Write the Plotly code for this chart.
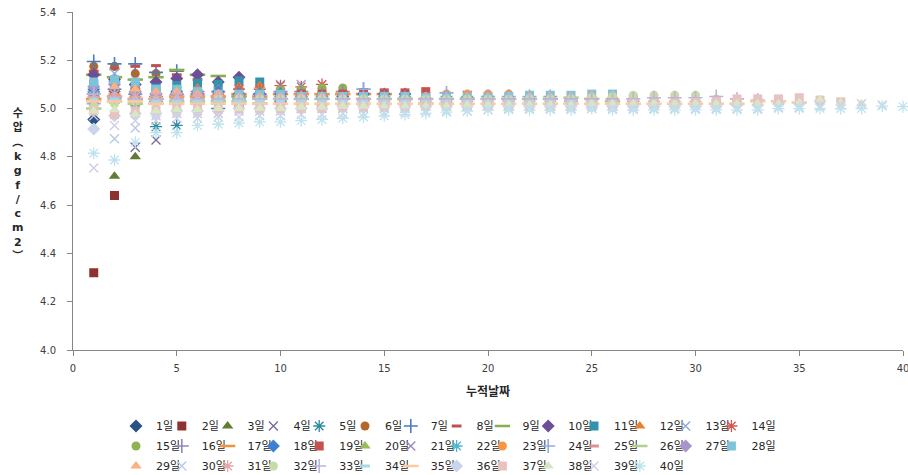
import plotly.graph_objects as go

# ---------------- data (series k = "k일", measured on cumulative days 1..k) ----------------
v01 = [4.955]
v02 = [4.32, 4.64]
v03 = [5.06, 4.72, 4.80]
v04 = [5.03, 5.05, 4.84, 4.87]
v05 = [5.08, 5.06, 5.02, 4.925, 4.93]
v06 = [5.175, 5.175, 5.145, 5.145, 5.03, 4.99]
v07 = [5.195, 5.185, 5.185, 5.15, 5.155, 5.06, 5.00]
v08 = [5.155, 5.165, 5.175, 5.178, 5.14, 5.12, 5.03, 5.01]
v09 = [5.14, 5.13, 5.12, 5.13, 5.16, 5.14, 5.135, 5.05, 5.02]
v10 = [5.14, 5.12, 5.10, 5.11, 5.125, 5.14, 5.11, 5.13, 5.06, 5.03]
v11 = [5.10, 5.11, 5.09, 5.085, 5.095, 5.105, 5.10, 5.115, 5.11, 5.05, 5.03]
v12 = [5.05, 5.08, 5.09, 5.07, 5.08, 5.085, 5.08, 5.09, 5.095, 5.08, 5.04, 5.02]
v13 = [5.07, 5.145, 5.06, 5.06, 5.07, 5.06, 5.07, 5.08, 5.08, 5.10, 5.10, 5.05, 5.03]
v14 = [5.05, 5.07, 5.05, 5.04, 5.05, 5.05, 5.06, 5.08, 5.08, 5.095, 5.09, 5.10, 5.05, 5.03]
v15 = [5.02, 5.04, 5.04, 5.03, 5.04, 5.05, 5.05, 5.06, 5.07, 5.08, 5.08, 5.085, 5.085, 5.05, 5.03]
v16 = [5.06, 5.08, 5.06, 5.05, 5.06, 5.07, 5.07, 5.06, 5.06, 5.07, 5.07, 5.06, 5.07, 5.08, 5.04, 5.02]
v17 = [5.04, 5.05, 5.04, 5.04, 5.05, 5.05, 5.05, 5.06, 5.05, 5.06, 5.06, 5.06, 5.06, 5.06, 5.06, 5.04, 5.02]
v18 = [5.07, 5.08, 5.07, 5.06, 5.07, 5.06, 5.07, 5.06, 5.06, 5.06, 5.05, 5.05, 5.05, 5.06, 5.06, 5.06, 5.04, 5.02]
v19 = [5.04, 5.05, 5.04, 5.05, 5.05, 5.06, 5.05, 5.05, 5.06, 5.06, 5.06, 5.06, 5.06, 5.065, 5.065, 5.065, 5.07, 5.04, 5.02]
v20 = [5.01, 5.03, 5.02, 5.03, 5.04, 5.04, 5.04, 5.05, 5.05, 5.05, 5.05, 5.05, 5.05, 5.05, 5.05, 5.05, 5.05, 5.05, 5.03, 5.02]
v21 = [5.08, 5.10, 5.07, 5.07, 5.07, 5.07, 5.06, 5.06, 5.06, 5.06, 5.05, 5.05, 5.05, 5.05, 5.05, 5.05, 5.05, 5.05, 5.055, 5.03, 5.02]
v22 = [5.07, 5.11, 5.06, 5.05, 5.06, 5.05, 5.05, 5.05, 5.05, 5.05, 5.05, 5.05, 5.04, 5.04, 5.05, 5.05, 5.04, 5.05, 5.05, 5.05, 5.03, 5.02]
v23 = [5.03, 5.05, 5.04, 5.04, 5.04, 5.04, 5.04, 5.05, 5.05, 5.04, 5.04, 5.04, 5.04, 5.04, 5.04, 5.04, 5.05, 5.06, 5.06, 5.06, 5.06, 5.055, 5.04]
v24 = [5.02, 5.04, 5.03, 5.03, 5.04, 5.04, 5.04, 5.04, 5.04, 5.04, 5.04, 5.04, 5.04, 5.08, 5.04, 5.04, 5.04, 5.065, 5.045, 5.05, 5.05, 5.05, 5.05, 5.03]
v25 = [5.03, 5.05, 5.03, 5.03, 5.03, 5.03, 5.04, 5.04, 5.04, 5.04, 5.04, 5.04, 5.04, 5.04, 5.04, 5.04, 5.04, 5.04, 5.04, 5.04, 5.04, 5.04, 5.045, 5.04, 5.03]
v26 = [5.00, 5.03, 5.02, 5.02, 5.03, 5.03, 5.03, 5.03, 5.04, 5.04, 5.04, 5.04, 5.04, 5.04, 5.04, 5.04, 5.04, 5.04, 5.04, 5.04, 5.04, 5.04, 5.04, 5.045, 5.04, 5.03]
v27 = [5.09, 5.10, 5.07, 5.06, 5.06, 5.06, 5.05, 5.05, 5.05, 5.05, 5.05, 5.04, 5.04, 5.04, 5.04, 5.04, 5.04, 5.04, 5.04, 5.04, 5.04, 5.04, 5.04, 5.04, 5.04, 5.04, 5.03]
v28 = [5.11, 5.12, 5.11, 5.08, 5.08, 5.07, 5.06, 5.06, 5.06, 5.06, 5.05, 5.05, 5.05, 5.05, 5.05, 5.05, 5.045, 5.045, 5.045, 5.045, 5.05, 5.055, 5.055, 5.055, 5.06, 5.06, 5.04, 5.03]
v29 = [5.04, 5.09, 5.08, 5.07, 5.07, 5.06, 5.06, 5.05, 5.05, 5.05, 5.05, 5.05, 5.04, 5.04, 5.04, 5.04, 5.04, 5.04, 5.04, 5.04, 5.04, 5.05, 5.05, 5.05, 5.055, 5.055, 5.04, 5.04, 5.03]
v30 = [4.97, 4.875, 4.92, 4.97, 4.98, 4.98, 4.98, 4.99, 4.99, 4.99, 5.00, 5.00, 5.00, 5.00, 5.00, 5.00, 5.01, 5.01, 5.01, 5.01, 5.01, 5.01, 5.01, 5.01, 5.01, 5.01, 5.01, 5.015, 5.02, 5.02]
v31 = [5.05, 5.06, 5.05, 5.05, 5.05, 5.05, 5.05, 5.04, 5.04, 5.04, 5.04, 5.04, 5.04, 5.03, 5.03, 5.03, 5.03, 5.03, 5.03, 5.03, 5.03, 5.03, 5.03, 5.03, 5.03, 5.03, 5.03, 5.03, 5.03, 5.03, 5.02]
v32 = [5.01, 5.02, 5.03, 5.03, 5.03, 5.03, 5.04, 5.04, 5.04, 5.04, 5.04, 5.04, 5.04, 5.04, 5.04, 5.04, 5.04, 5.04, 5.04, 5.04, 5.04, 5.04, 5.04, 5.04, 5.045, 5.05, 5.055, 5.055, 5.055, 5.055, 5.04, 5.03]
v33 = [5.06, 5.05, 5.04, 5.04, 5.04, 5.04, 5.04, 5.04, 5.04, 5.04, 5.04, 5.04, 5.04, 5.04, 5.04, 5.04, 5.04, 5.04, 5.04, 5.04, 5.04, 5.04, 5.04, 5.04, 5.04, 5.04, 5.04, 5.045, 5.045, 5.045, 5.05, 5.04, 5.035]
v34 = [5.04, 5.04, 5.03, 5.03, 5.03, 5.03, 5.03, 5.03, 5.03, 5.03, 5.03, 5.03, 5.03, 5.03, 5.03, 5.03, 5.03, 5.03, 5.03, 5.03, 5.03, 5.03, 5.03, 5.03, 5.03, 5.03, 5.03, 5.03, 5.03, 5.03, 5.03, 5.035, 5.035, 5.03]
v35 = [5.03, 5.03, 5.03, 5.02, 5.02, 5.02, 5.02, 5.02, 5.02, 5.02, 5.02, 5.02, 5.02, 5.02, 5.02, 5.02, 5.02, 5.02, 5.02, 5.02, 5.02, 5.02, 5.02, 5.02, 5.02, 5.02, 5.02, 5.02, 5.02, 5.02, 5.02, 5.02, 5.03, 5.03, 5.025]
v36 = [4.915, 4.97, 4.98, 4.98, 4.99, 4.99, 4.99, 5.00, 5.00, 5.00, 5.00, 5.00, 5.01, 5.01, 5.01, 5.01, 5.01, 5.01, 5.01, 5.01, 5.01, 5.01, 5.01, 5.01, 5.01, 5.01, 5.01, 5.01, 5.01, 5.01, 5.01, 5.015, 5.015, 5.02, 5.02, 5.03]
v37 = [4.99, 4.975, 4.99, 4.995, 5.00, 5.00, 5.00, 5.00, 5.00, 5.00, 5.00, 5.00, 5.005, 5.005, 5.005, 5.005, 5.01, 5.01, 5.01, 5.01, 5.01, 5.01, 5.01, 5.01, 5.015, 5.015, 5.02, 5.02, 5.02, 5.025, 5.03, 5.04, 5.04, 5.04, 5.045, 5.035, 5.028]
v38 = [4.99, 4.995, 4.975, 4.99, 4.995, 4.995, 5.00, 5.00, 5.00, 5.00, 5.005, 5.005, 5.01, 5.01, 5.01, 5.01, 5.01, 5.01, 5.015, 5.015, 5.015, 5.015, 5.015, 5.015, 5.02, 5.02, 5.02, 5.02, 5.02, 5.02, 5.02, 5.02, 5.02, 5.02, 5.025, 5.035, 5.025, 5.02]
v39 = [4.754, 4.93, 4.95, 4.95, 4.96, 4.96, 4.965, 4.965, 4.97, 4.97, 4.975, 4.975, 4.98, 4.98, 4.985, 4.985, 4.99, 4.99, 4.99, 4.995, 5.00, 5.00, 5.00, 5.00, 5.00, 5.00, 5.00, 5.00, 5.00, 5.00, 5.00, 5.00, 5.00, 5.005, 5.005, 5.01, 5.015, 5.02, 5.015]
v40 = [4.815, 4.787, 4.86, 4.90, 4.90, 4.93, 4.935, 4.94, 4.945, 4.945, 4.95, 4.955, 4.96, 4.965, 4.97, 4.975, 4.98, 4.985, 4.99, 4.995, 4.995, 4.995, 4.995, 4.995, 5.00, 4.995, 4.995, 4.995, 4.995, 4.995, 4.995, 4.995, 4.995, 5.00, 5.00, 5.00, 5.00, 5.00, 5.01, 5.008]

series_values = [v01, v02, v03, v04, v05, v06, v07, v08, v09, v10,
                 v11, v12, v13, v14, v15, v16, v17, v18, v19, v20,
                 v21, v22, v23, v24, v25, v26, v27, v28, v29, v30,
                 v31, v32, v33, v34, v35, v36, v37, v38, v39, v40]
series_names = [f"{k}일" for k in range(1, 41)]

y_ticks = [4.0, 4.2, 4.4, 4.6, 4.8, 5.0, 5.2, 5.4]
x_ticks = [0, 5, 10, 15, 20, 25, 30, 35, 40]

# ---------------- styles ----------------
colors = ["#2C5283", "#8E3230", "#617D33", "#7A6A9A", "#2E8AA0", "#B3672A",
          "#4A7CC0", "#C0504D", "#8AB04E", "#6C4F96", "#3393AD", "#E9812D",
          "#8DA9DB", "#D9534F", "#8DB451", "#9684BD", "#F4913E", "#3F7FCF",
          "#C4524E", "#9BBB59", "#9C88C4", "#4BB5CE", "#F79646", "#8EACDC",
          "#E0908E", "#B3CF8A", "#A694CB", "#7FC3DA", "#FAB37E", "#B9C9E7",
          "#E8A4A2", "#C7DBA6", "#BFB3D9", "#A9D7E5", "#FBC9A3", "#C9D5EC",
          "#E8C2C1", "#D8E6C4", "#D2CCE3", "#BEE3EE"]
kinds = ["D", "S", "T", "X", "A", "C", "P", "d", "L",
         "D", "S", "T", "X", "A", "C", "P", "L",
         "D", "S", "T", "X", "A", "C", "P", "d", "L",
         "D", "S", "T", "X", "A", "C", "P", "d", "L",
         "D", "S", "T", "X", "A"]
style_of = {
    "D": ("diamond", 10, 0),
    "S": ("square", 9, 0),
    "T": ("triangle-up", 10, 0),
    "X": ("x-thin", 9, 1.4),
    "A": ("asterisk", 10, 1.3),
    "C": ("circle", 9, 0),
    "P": ("cross-thin", 10, 1.6),
    "d": ("line-ew", 7, 3),
    "L": ("line-ew", 11, 2.6),
}

row_last = {13, 27, 39}

fig = go.Figure()
for i, vals in enumerate(series_values):
    sym, size, lw = style_of[kinds[i]]
    leg = "legend" if i < 14 else ("legend2" if i < 28 else "legend3")
    extra = {"legendwidth": 40} if i in row_last else {}
    fig.add_trace(go.Scatter(
        x=list(range(1, len(vals) + 1)), y=vals, mode="markers",
        name=series_names[i], legend=leg, cliponaxis=False,
        marker=dict(symbol=sym, size=size, color=colors[i],
                    line=dict(color=colors[i], width=lw)),
        **extra,
    ))

FONT = "DejaVu Sans, Noto Sans CJK KR, sans-serif"
leg_common = dict(orientation="h", xanchor="left", yanchor="middle",
                  entrywidth=0.8, entrywidthmode="pixels",
                  font=dict(family=FONT, size=11, color="#262626"),
                  bgcolor="rgba(0,0,0,0)", borderwidth=0, tracegroupgap=0,
                  itemclick=False)
LX = (116 - 73) / 830

fig.update_layout(
    width=908, height=475,
    margin=dict(l=73, r=5, t=12, b=125, autoexpand=False),
    paper_bgcolor="white", plot_bgcolor="white",
    font=dict(family=FONT, size=10, color="#404040"),
    xaxis=dict(range=[0, 40], tickvals=x_ticks, showline=True, linecolor="#868686",
               linewidth=1, ticks="outside", ticklen=5, tickcolor="#868686",
               showgrid=False, zeroline=False, ticklabelstandoff=4,
               ticklabeloverflow="allow",
               tickfont=dict(family=FONT, size=10, color="#404040")),
    yaxis=dict(range=[4.0, 5.4], tickvals=y_ticks, tickformat=".1f", showline=True,
               linecolor="#868686", linewidth=1, ticks="outside", ticklen=5,
               tickcolor="#868686", showgrid=False, zeroline=False,
               ticklabelstandoff=9, ticklabeloverflow="allow",
               tickfont=dict(family=FONT, size=10, color="#404040")),
    legend=dict(x=LX, y=(350 - 426) / 338, **leg_common),
    legend2=dict(x=LX, y=(350 - 446) / 338, **leg_common),
    legend3=dict(x=LX, y=(350 - 466) / 338, **leg_common),
    showlegend=True,
    annotations=[
        dict(text="<b>누적날짜</b>", xref="paper", yref="paper",
             x=(488 - 73) / 830, y=(350 - 392) / 338, xanchor="center", yanchor="middle",
             showarrow=False, font=dict(family=FONT, size=12, color="#262626")),
        dict(text="<b>수<br>압<br>︵<br>k<br>g<br>f<br>/<br>c<br>m<br>2<br>︶</b>",
             xref="paper", yref="paper", x=(17 - 73) / 830, y=(350 - 185) / 338,
             xanchor="center", yanchor="middle", showarrow=False,
             font=dict(family=FONT, size=11, color="#262626")),
    ],
)

fig.write_html("out.html")
